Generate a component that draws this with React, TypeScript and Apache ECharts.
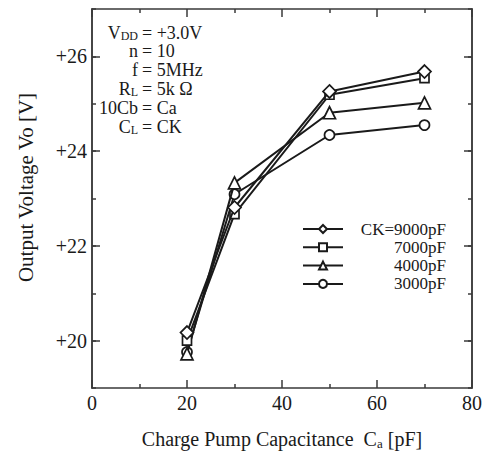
import React, { useEffect, useRef } from 'react';
import * as echarts from 'echarts';

const xValues = [20, 30, 50, 70];
const seriesNames = ['CK=9000pF', '7000pF', '4000pF', '3000pF'];
const seriesSymbols = ['diamond', 'rect', 'triangle', 'circle'];
const ck9000 = [20.17, 22.81, 25.26, 25.68];
const ck7000 = [20.0, 22.67, 25.19, 25.54];
const ck4000 = [19.72, 23.33, 24.81, 25.02];
const ck3000 = [19.76, 23.09, 24.34, 24.55];
const yMajorTicks = [20, 22, 24, 26];
const xTitle = 'Charge Pump Capacitance  {m|C}{s|a} [pF]';
const yTitle = 'Output Voltage Vo [V]';
const noteLeft = ['{m|V}{s|DD}', '{m|n}', '{m|f}', '{m|R}{s|L}', '{m|10Cb}', '{m|C}{s|L}'];
const noteRight = ['= +3.0V', '= 10', '= 5MHz', '= 5k \u03A9', '= Ca', '= CK'];

const FONT = '"Liberation Serif", "Times New Roman", serif';
const INK = '#1a1a1a';
const AX = '#3a3a3a';

export default function App() {
  const ref = useRef<HTMLDivElement>(null);
  useEffect(() => {
    if (!ref.current) return;
    const chart = echarts.init(ref.current, undefined, { renderer: 'svg' });
    const allValues = [ck9000, ck7000, ck4000, ck3000];
    const sizes = [13, 9, 12, 10];
    const lineStyle = { color: AX, width: 1.5 };
    const baseY = {
      type: 'value',
      min: 19,
      max: 27,
      interval: 1,
      splitLine: { show: false },
      axisLine: { show: true, lineStyle },
    };
    const baseX = {
      type: 'value',
      min: 0,
      max: 80,
      interval: 20,
      splitLine: { show: false },
      axisLine: { show: true, lineStyle },
      axisTick: { show: true, inside: true, length: 8, lineStyle },
      minorTick: { show: true, splitNumber: 2, length: 4, lineStyle },
    };
    const rowY = [32.5, 51.3, 70.1, 88.9, 107.7, 126.5];
    const graphics: any[] = [];
    rowY.forEach((y, i) => {
      graphics.push({
        type: 'text',
        x: 138,
        y,
        style: {
          text: noteLeft[i],
          align: 'right',
          verticalAlign: 'middle',
          fill: INK,
          fontFamily: FONT,
          fontSize: 18,
          lineHeight: 18.5,
          rich: {
            m: { fontFamily: FONT, fontSize: 18, lineHeight: 18.5, fill: INK },
            s: { fontFamily: FONT, fontSize: 12, lineHeight: 7, verticalAlign: 'bottom', fill: INK },
          },
        },
      });
      graphics.push({
        type: 'text',
        x: 142,
        y,
        style: {
          text: noteRight[i],
          align: 'left',
          verticalAlign: 'middle',
          fill: INK,
          fontFamily: FONT,
          fontSize: 18,
          lineHeight: 17,
        },
      });
    });

    chart.setOption({
      animation: false,
      backgroundColor: '#ffffff',
      grid: { left: 92, right: 17, top: 9, bottom: 67, containLabel: false },
      xAxis: [
        {
          ...baseX,
          position: 'bottom',
          axisLabel: { show: true, fontFamily: FONT, fontSize: 20, color: INK, margin: 5 },
          name: xTitle,
          nameLocation: 'middle',
          nameGap: 40,
          nameTextStyle: {
            fontFamily: FONT,
            fontSize: 20,
            color: INK,
            rich: {
              m: { fontFamily: FONT, fontSize: 20, color: INK, lineHeight: 22 },
              s: { fontFamily: FONT, fontSize: 13, color: INK, lineHeight: 10, verticalAlign: 'bottom' },
            },
          },
        },
        { ...baseX, position: 'top', axisLabel: { show: false } },
      ],
      yAxis: [
        {
          ...baseY,
          position: 'left',
          axisTick: { show: true, inside: true, length: 4, lineStyle },
          axisLabel: {
            show: true,
            fontFamily: FONT,
            fontSize: 20,
            color: INK,
            margin: 5,
            formatter: (v: number) => (v % 2 === 0 ? '+' + v : ''),
          },
          name: yTitle,
          nameLocation: 'middle',
          nameGap: 56,
          nameTextStyle: { fontFamily: FONT, fontSize: 21, color: INK, padding: [0, 0, 0, 22] },
        },
        {
          ...baseY,
          position: 'left',
          axisTick: { show: true, inside: true, length: 8, lineStyle, customValues: yMajorTicks },
          axisLabel: { show: false },
        },
        {
          ...baseY,
          position: 'right',
          axisTick: { show: true, inside: true, length: 4, lineStyle },
          axisLabel: { show: false },
        },
        {
          ...baseY,
          position: 'right',
          axisTick: { show: true, inside: true, length: 8, lineStyle, customValues: yMajorTicks },
          axisLabel: { show: false },
        },
      ],
      legend: {
        orient: 'vertical',
        left: 297,
        top: 215,
        itemWidth: 40,
        itemHeight: 10,
        itemGap: 0.3,
        data: seriesNames,
        formatter: (n: string) => `{r|${n}}`,
        textStyle: {
          fontFamily: FONT,
          fontSize: 17,
          color: INK,
          lineHeight: 18,
          rich: { r: { width: 98, align: 'right', fontFamily: FONT, fontSize: 17, color: INK, lineHeight: 18 } },
        },
      },
      graphic: graphics,
      series: seriesNames.map((name, i) => ({
        name,
        type: 'line',
        xAxisIndex: 0,
        yAxisIndex: 0,
        data: xValues.map((x, j) => [x, allValues[i][j]]),
        symbol: seriesSymbols[i],
        symbolSize: sizes[i],
        lineStyle: { color: INK, width: 2 },
        itemStyle: { color: '#ffffff', borderColor: INK, borderWidth: 1.7 },
        z: 10 - i,
      })),
    });
    return () => chart.dispose();
  }, []);
  return <div ref={ref} style={{ position: 'fixed', left: 0, top: 0, width: 489, height: 455 }} />;
}
